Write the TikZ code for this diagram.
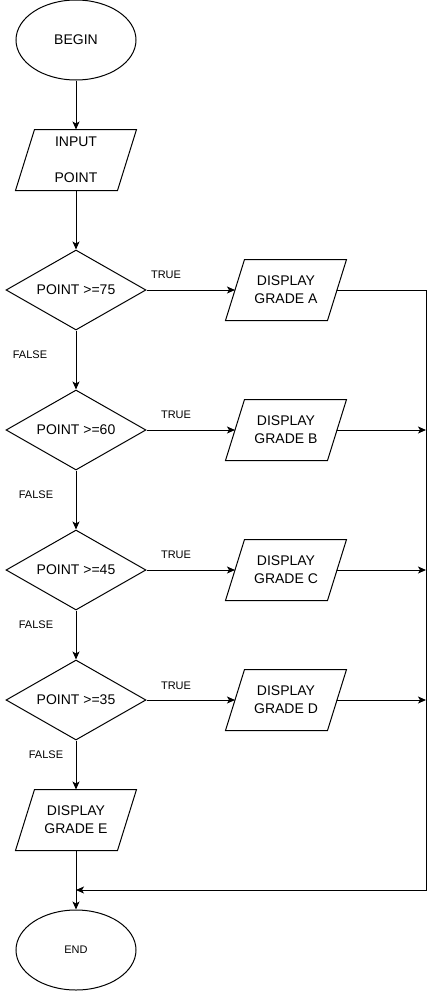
\documentclass[tikz,border=0pt]{standalone}
\usepackage{fontspec}
\setmainfont{Liberation Sans}
\usetikzlibrary{shapes.geometric,arrows.meta}
\begin{document}
\begin{tikzpicture}[x=1pt,y=-1pt,
  line width=1pt,
  >={Stealth[length=8pt,width=7pt,inset=2pt]},
  term/.style={ellipse,draw,minimum width=120pt,minimum height=80pt,inner sep=0pt},
  io/.style={minimum width=101pt,minimum height=60pt,inner sep=0pt,align=center,
    font=\fontsize{14}{18}\selectfont},
  dec/.style={diamond,draw,minimum width=140pt,minimum height=80pt,aspect=1.75,inner sep=0pt,
    font=\fontsize{14}{18}\selectfont},
  lbl/.style={font=\fontsize{11}{13}\selectfont,inner sep=0pt},
  flow/.style={->}
]
\useasboundingbox (0,0) rectangle (435,991);

\node[term,font=\fontsize{14}{18}\selectfont] (begin) at (76,40) {BEGIN};
\node[io] (inp) at (76,160) {INPUT\\[18pt]POINT};
\node[dec] (d1) at (76,290) {POINT >=75};
\node[dec] (d2) at (76,430) {POINT >=60};
\node[dec] (d3) at (76,570) {POINT >=45};
\node[dec] (d4) at (76,700) {POINT >=35};
\node[io] (da) at (286,290) {DISPLAY\\GRADE A};
\node[io] (db) at (286,430) {DISPLAY\\GRADE B};
\node[io] (dc) at (286,570) {DISPLAY\\GRADE C};
\node[io] (dd) at (286,700) {DISPLAY\\GRADE D};
\node[io] (de) at (76,820) {DISPLAY\\GRADE E};
\node[term,font=\fontsize{11}{13}\selectfont] (end) at (76,950) {END};

\foreach \n in {inp,da,db,dc,dd,de}
  \draw ([xshift=9.5pt]\n.north west) -- ([xshift=9.5pt]\n.north east)
     -- ([xshift=-9.5pt]\n.south east) -- ([xshift=-9.5pt]\n.south west) -- cycle;

\coordinate (rt) at (426,290);
\coordinate (rb) at (426,890);
\coordinate (mg) at (76,890);

\draw[flow] (begin) -- (inp);
\draw[flow] (inp) -- (d1);
\draw[flow] (d1) -- (d2);
\draw[flow] (d2) -- (d3);
\draw[flow] (d3) -- (d4);
\draw[flow] (d4) -- (de);
\draw[flow] (de) -- (end);

\draw[flow] (d1.east) -- (da.west);
\draw[flow] (d2.east) -- (db.west);
\draw[flow] (d3.east) -- (dc.west);
\draw[flow] (d4.east) -- (dd.west);

\draw[flow] (da.east) -- (rt) -- (rb) -- (mg);
\draw[flow] (db.east) -- (db.east -| rt);
\draw[flow] (dc.east) -- (dc.east -| rt);
\draw[flow] (dd.east) -- (dd.east -| rt);

\node[lbl] (t1) at (166,275) {TRUE};
\node[lbl] (t2) at (176,415) {TRUE};
\node[lbl] (t3) at (176,555) {TRUE};
\node[lbl] (t4) at (176,686) {TRUE};
\node[lbl] (f1) at (30,355) {FALSE};
\node[lbl] (f2) at (36,495) {FALSE};
\node[lbl] (f3) at (36,625) {FALSE};
\node[lbl] (f4) at (46,755) {FALSE};
\end{tikzpicture}
\end{document}
